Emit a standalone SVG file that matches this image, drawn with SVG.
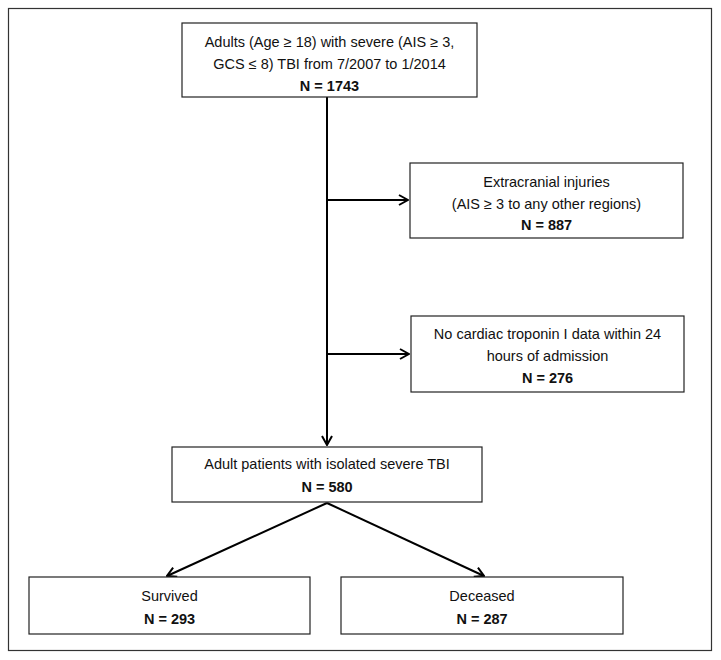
<svg xmlns="http://www.w3.org/2000/svg" width="721" height="660" viewBox="0 0 721 660">
<style>
.box{fill:#fff;stroke:#222;stroke-width:1.2}
.t{font-family:"Liberation Sans",Arial,sans-serif;font-size:14.5px;fill:#111;text-anchor:middle}
.b{font-weight:bold}
.c{stroke:#000;stroke-width:2;fill:none}
</style>
<defs>
<marker id="ah" viewBox="0 0 12 12" refX="11" refY="6" markerWidth="12" markerHeight="12" markerUnits="userSpaceOnUse" orient="auto">
<path d="M2,1 L11,6 L2,11" fill="none" stroke="#000" stroke-width="2"/>
</marker>
</defs>
<rect x="0" y="0" width="721" height="660" fill="#fff"/>
<rect id="frame" x="8.5" y="8.5" width="703" height="642" fill="none" stroke="#333" stroke-width="1.2"/>
<g id="connectors">
<line class="c" x1="327" y1="97" x2="327" y2="445" marker-end="url(#ah)"/>
<line class="c" x1="327" y1="200" x2="408" y2="200" marker-end="url(#ah)"/>
<line class="c" x1="327" y1="354" x2="409" y2="354" marker-end="url(#ah)"/>
<line class="c" x1="327" y1="503" x2="167" y2="576" marker-end="url(#ah)"/>
<line class="c" x1="327" y1="503" x2="484" y2="576" marker-end="url(#ah)"/>
</g>
<g id="n1">
<rect class="box" x="182" y="23" width="295" height="74"/>
<text class="t" x="329.5" y="47">Adults (Age ≥ 18) with severe (AIS ≥ 3,</text>
<text class="t" x="329.5" y="69">GCS ≤ 8) TBI from 7/2007 to 1/2014</text>
<text class="t b" x="329.5" y="91">N = 1743</text>
</g>
<g id="n2">
<rect class="box" x="410" y="163" width="273" height="75"/>
<text class="t" x="546.5" y="187">Extracranial injuries</text>
<text class="t" x="546.5" y="209">(AIS ≥ 3 to any other regions)</text>
<text class="t b" x="546.5" y="230">N = 887</text>
</g>
<g id="n3">
<rect class="box" x="411" y="316" width="273" height="76"/>
<text class="t" x="547.5" y="339">No cardiac troponin I data within 24</text>
<text class="t" x="547.5" y="361">hours of admission</text>
<text class="t b" x="547.5" y="383">N = 276</text>
</g>
<g id="n4">
<rect class="box" x="172" y="447" width="310" height="55"/>
<text class="t" x="327" y="469">Adult patients with isolated severe TBI</text>
<text class="t b" x="327" y="492">N = 580</text>
</g>
<g id="n5">
<rect class="box" x="29" y="577" width="281" height="57"/>
<text class="t" x="169.5" y="601">Survived</text>
<text class="t b" x="169.5" y="624">N = 293</text>
</g>
<g id="n6">
<rect class="box" x="341" y="577" width="282" height="57"/>
<text class="t" x="482" y="601">Deceased</text>
<text class="t b" x="482" y="624">N = 287</text>
</g>
</svg>
